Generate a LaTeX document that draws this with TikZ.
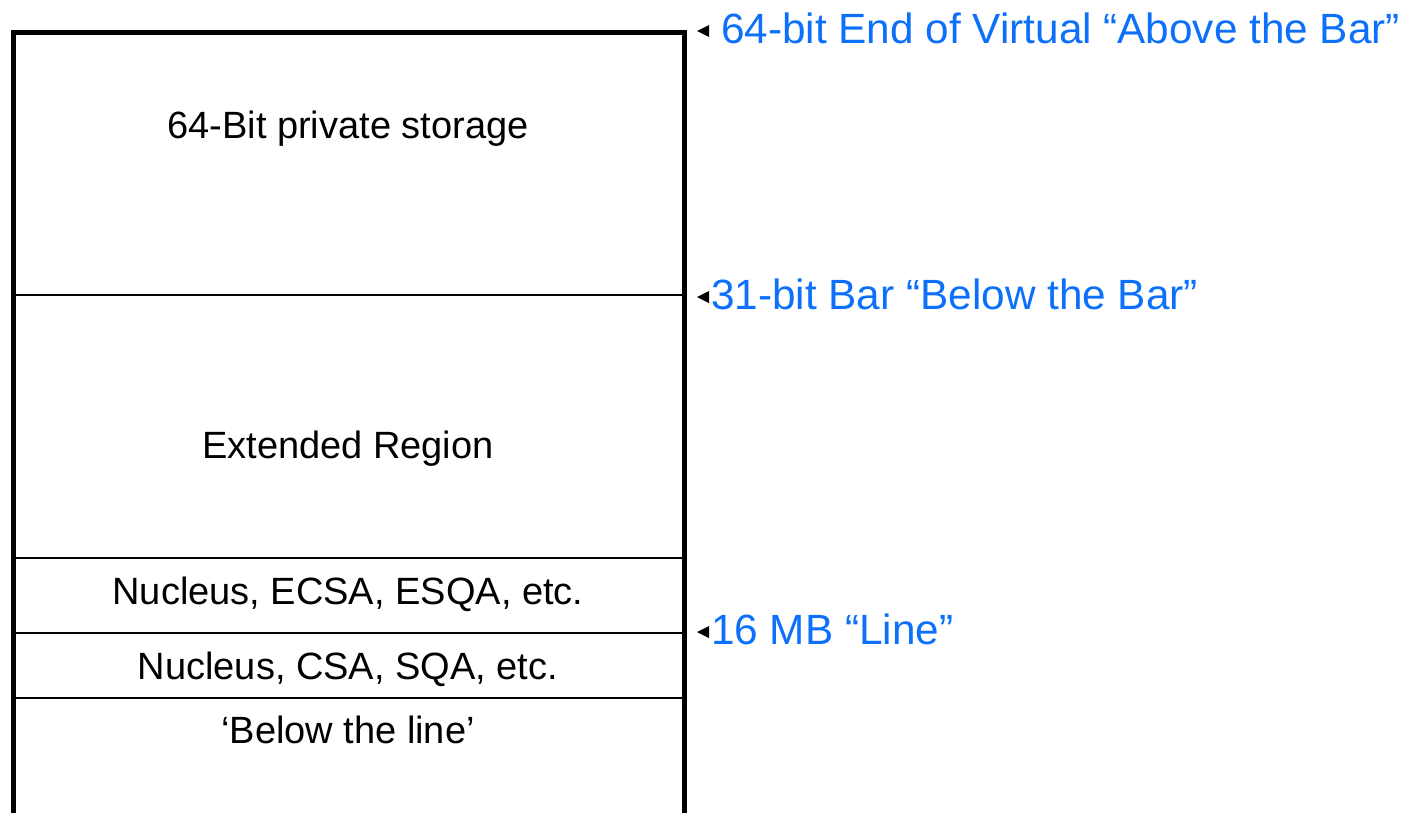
\documentclass[tikz,border=0pt]{standalone}
\usepackage{fontspec}
\setmainfont{Liberation Sans}
\definecolor{labelblue}{RGB}{12,112,250}
\tikzset{
  region/.style={anchor=base, inner sep=0pt, font=\fontsize{38}{45}\selectfont},
  mark label/.style={anchor=base west, inner sep=0pt, text=labelblue, font=\fontsize{42.3}{50}\selectfont},
  outer/.style={line width=5pt, line cap=rect},
  divider/.style={line width=1.5pt},
  marker/.style={fill=black}
}
\begin{document}
\begin{tikzpicture}[x=1pt,y=-1pt]
\useasboundingbox (0,0) rectangle (1408,812);
% outer box (open at bottom)
\coordinate (bl) at (13.5,815);
\coordinate (tl) at (13.5,32.5);
\coordinate (tr) at (684,32.5);
\coordinate (br) at (684,815);
\draw[outer] (bl) -- (tl) -- (tr) -- (br);
% dividers
\foreach \y/\n in {295/a,558/b,633/c,698/d}{
  \coordinate (l\n) at (13.5,\y);
  \coordinate (r\n) at (684,\y);
  \draw[divider] (l\n) -- (r\n);
}
% region labels
\node[region] (priv) at (348,138) {64-Bit private storage};
\node[region] (ext) at (348,458) {Extended Region};
\node[region] (ecsa) at (348,604) {Nucleus, ECSA, ESQA, etc.};
\node[region] (csa) at (348,679) {Nucleus, CSA, SQA, etc.};
\node[region] (below) at (348,743) {‘Below the line’};
% boundary labels
\node[mark label] (top) at (721,43) {64-bit End of Virtual “Above the Bar”};
\node[mark label] (bar) at (711,309) {31-bit Bar “Below the Bar”};
\node[mark label] (line) at (711,644) {16 MB “Line”};
% markers
\foreach \n/\y in {m1/31, m2/297, m3/632}{
  \coordinate (\n) at (697,\y);
  \fill[marker] (\n) -- ++(12,-6) -- ++(0,12) -- cycle;
}
\end{tikzpicture}
\end{document}
